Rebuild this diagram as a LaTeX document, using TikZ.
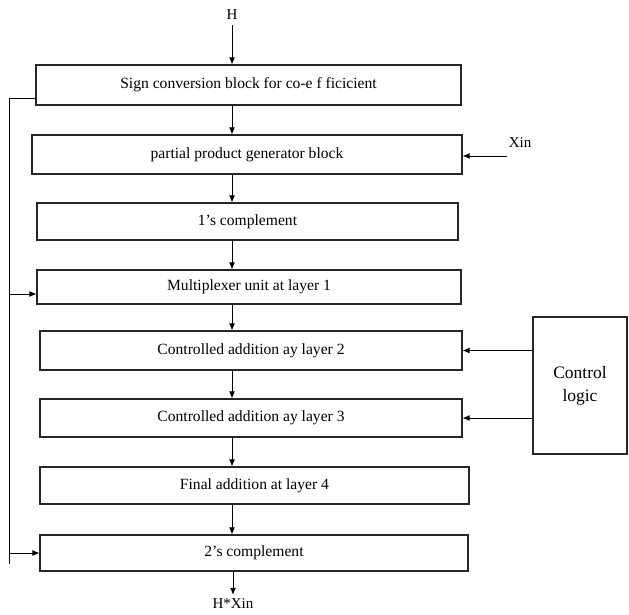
\documentclass[tikz,border=0pt]{standalone}
\usepackage{fontspec}
\setmainfont{Liberation Serif}
\usetikzlibrary{arrows.meta}
\tikzset{
  blk/.style={draw=black!85, line width=1.1pt, fill=white, inner sep=0pt, font=\fontsize{15.6}{18}\selectfont},
  arr/.style={-{Latex[length=7pt,width=6pt]}, line width=0.9pt},
  lbl/.style={inner sep=1pt, font=\fontsize{15}{18}\selectfont}
}
\begin{document}
\begin{tikzpicture}[x=1pt,y=-1pt]
\useasboundingbox (0,0) rectangle (629,615);
% the stack of blocks
\node[blk, minimum width=425pt, minimum height=40pt] (b1) at (248.5,85) {Sign conversion block for co-e f ficicient};
\node[blk, minimum width=430pt, minimum height=39pt] (b2) at (247,154.5) {partial product generator block};
\node[blk, minimum width=421pt, minimum height=37pt] (b3) at (247.5,221.5) {1’s complement};
\node[blk, minimum width=424pt, minimum height=34pt] (b4) at (249,287) {Multiplexer unit at layer 1};
\node[blk, minimum width=422pt, minimum height=39pt] (b5) at (251,350.5) {Controlled addition ay layer 2};
\node[blk, minimum width=422pt, minimum height=38pt] (b6) at (251,418) {Controlled addition ay layer 3};
\node[blk, minimum width=429pt, minimum height=37pt] (b7) at (254.5,485.5) {Final addition at layer 4};
\node[blk, minimum width=428pt, minimum height=36pt] (b8) at (254,553) {2’s complement};
\node[blk, minimum width=94pt, minimum height=137pt, align=center, font=\fontsize{17.5}{23}\selectfont] (ctrl) at (580,385.5) {Control\\logic};
% inputs and output
\node[lbl] (h) at (232,15) {H};
\node[lbl] (xin) at (520,143) {Xin};
\node[lbl] (out) at (233,604) {H*Xin};
\coordinate (mid) at (232,0);
\draw[arr] (h.south) ++(0,4) -- (b1.north -| h);
\foreach \a/\b in {b1/b2,b2/b3,b3/b4,b4/b5,b5/b6,b6/b7,b7/b8}
\draw[arr] (\a.south -| mid) -- (\b.north -| mid);
\draw[arr] (b8.south -| out) -- ([yshift=3pt]out.north);
\coordinate (xs) at (507,156);
\draw[arr] (xs) -- (xs -| b2.east);
\foreach \b in {b5,b6}
\draw[arr] (ctrl.west |- \b.east) -- (\b.east);
% feedback line on the left
\coordinate (fb) at (9,98);
\coordinate (fbend) at (9,564);
\draw[line width=0.9pt] (b1.west |- fb) -- (fb) -- (fbend);
\draw[arr] (fb |- 0,294) -- (b4.west |- 0,294);
\draw[arr] (fb |- b8.west) -- (b8.west);
\end{tikzpicture}
\end{document}
